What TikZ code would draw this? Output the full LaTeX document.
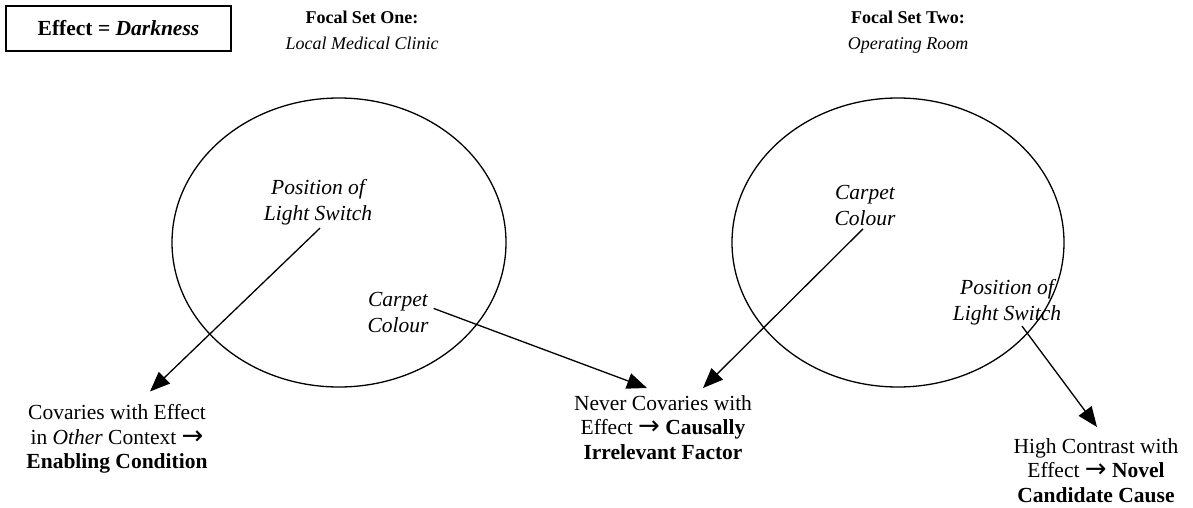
\documentclass[tikz,border=0pt]{standalone}
\usepackage{fontspec}
\setmainfont{Liberation Serif}
\newfontfamily\arwfont{DejaVu Sans}
\newcommand{\myarw}{{\arwfont\fontsize{26}{24.5}\selectfont →}}
\usetikzlibrary{arrows.meta,shapes.geometric}
\begin{document}
\begin{tikzpicture}[x=1pt,y=-1pt,
  txt/.style={align=center, font=\fontsize{21.5}{24.5}\selectfont, inner sep=0pt, anchor=north},
  itxt/.style={txt, font=\fontsize{21.5}{26}\selectfont\itshape},
  hdr/.style={align=center, font=\fontsize{18}{26}\selectfont, inner sep=0pt, anchor=north},
  setshape/.style={draw, ellipse, line width=1.3pt, inner sep=0pt},
  arr/.style={line width=1.3pt, -{Triangle[length=20pt,width=16pt]}}]
\useasboundingbox (0,0) rectangle (1193,508);

\node[draw, line width=1.3pt, minimum width=225pt, minimum height=45pt, inner sep=0pt,
      font=\fontsize{21.5}{25}\selectfont] (eff) at (118.5,28.5) {\textbf{Effect = \textit{Darkness}}};

\node[hdr] (f1) at (362,11) {\textbf{Focal Set One:}\\\textit{Local Medical Clinic}};
\node[hdr] (f2) at (908,11) {\textbf{Focal Set Two:}\\\textit{Operating Room}};

\node[setshape, minimum width=334pt, minimum height=289pt] (e1) at (339,242.5) {};
\node[setshape, minimum width=332pt, minimum height=289pt] (e2) at (898,242.5) {};

\node[itxt] (ls1) at (318,179) {Position of\\Light Switch};
\node[itxt] (cc1) at (398,292) {Carpet\\Colour};
\node[itxt] (cc2) at (865,185) {Carpet\\Colour};
\node[itxt] (ls2) at (1007,279) {Position of\\Light Switch};

\node[txt] (ec) at (117,404.5) {Covaries with Effect\\in \textit{Other} Context \myarw\\\textbf{Enabling Condition}};
\node[txt] (ci) at (663,395) {Never Covaries with\\Effect \myarw{} \textbf{Causally}\\\textbf{Irrelevant Factor}};
\node[txt] (nc) at (1096,438) {High Contrast with\\Effect \myarw{} \textbf{Novel}\\\textbf{Candidate Cause}};

\draw[arr] ([xshift=2pt,yshift=-3pt]ls1.south) -- ([xshift=33pt,yshift=13pt]ec.north);
\draw[arr] ([xshift=5pt,yshift=4pt]cc1.east) -- ([xshift=-16pt,yshift=7pt]ci.north);
\draw[arr] ([xshift=-2pt,yshift=-3pt]cc2.south) -- ([xshift=40pt,yshift=7pt]ci.north);
\draw[arr] ([xshift=15pt,yshift=-1pt]ls2.south) -- ([xshift=1pt,yshift=11pt]nc.north);
\end{tikzpicture}
\end{document}
